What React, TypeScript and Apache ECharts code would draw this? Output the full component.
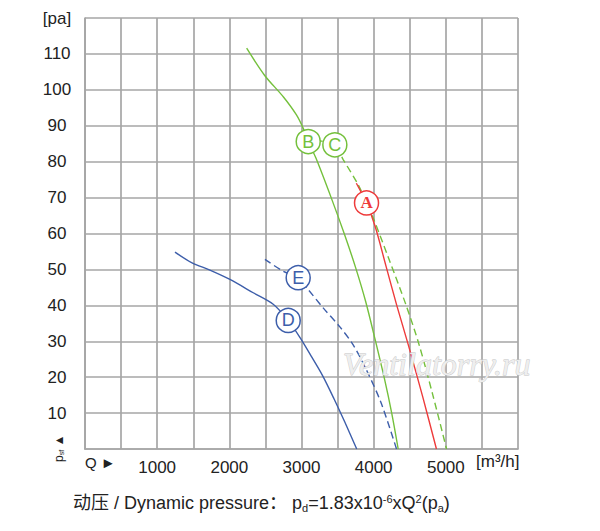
import * as echarts from "echarts";
import { useEffect, useRef } from "react";

// fan curves: [flow m³/h, static pressure pa]
const curveA = [[3760, 74], [3900, 68.5], [4020, 62], [4170, 51], [4320, 40], [4480, 29], [4680, 14.5], [4870, 0]];
const curveB = [[2240, 111.6], [2490, 104], [2750, 98], [2930, 93], [3030, 89], [3093, 85.6], [3200, 81], [3420, 69.5], [3600, 59.5], [3750, 50.5], [3890, 41], [4020, 30.5], [4150, 19.5], [4250, 10], [4340, 0]];
const curveC = [[3200, 86], [3462, 84.5], [3580, 80.5], [3785, 73.6], [3900, 68.5], [4000, 64], [4200, 53.5], [4450, 40], [4630, 29], [4820, 15], [5010, 0]];
const curveD = [[1247, 54.8], [1477, 51.9], [1731, 49.8], [2008, 47.2], [2331, 43.5], [2608, 40.3], [2816, 35.8], [2980, 31], [3130, 26], [3290, 20.5], [3450, 14], [3600, 7.5], [3765, 0]];
const curveE = [[2493, 52.8], [2747, 49.5], [2954, 47.7], [3093, 44.4], [3300, 39.3], [3532, 34], [3716, 29], [3900, 22], [4100, 13], [4317, 0]];

const curveNames = ["A", "B", "C", "D", "E"];
const labelPoints = [[3901, 68.5], [3093, 85.6], [3462, 84.7], [2816, 35.8], [2954, 47.7]];

const flowTicks = [1000, 2000, 3000, 4000, 5000];

const GREEN = "#74c03c";
const RED = "#ee3b3b";
const BLUE = "#3d5eaa";
const GRID = "#a6a6a6";
const FONT = "'Liberation Sans', Arial, 'Noto Sans CJK SC', sans-serif";

const curveColors: Record<string, string> = { A: RED, B: GREEN, C: GREEN, D: BLUE, E: BLUE };

function lineSeries(data: number[][], color: string, dashed: boolean) {
  return {
    type: "line",
    data,
    smooth: 0.3,
    showSymbol: false,
    silent: true,
    lineStyle: { color, width: 1.4, type: dashed ? [7, 4] : "solid" },
    z: 3
  };
}

export default function App() {
  const ref = useRef<HTMLDivElement | null>(null);

  useEffect(() => {
    document.body.style.margin = "0";
    if (!ref.current) return;
    const chart = echarts.init(ref.current, undefined, { renderer: "svg" });

    const markers = curveNames.map((name, i) => ({
      type: "scatter",
      data: [labelPoints[i]],
      symbol: "circle",
      symbolSize: 24,
      silent: true,
      itemStyle: { color: "#ffffff", borderColor: curveColors[name], borderWidth: 1.5, opacity: 1 },
      label: {
        show: true,
        position: "inside",
        formatter: name,
        color: curveColors[name],
        fontSize: name === "A" ? 17 : 18,
        fontWeight: name === "A" ? "bold" : "normal",
        fontFamily: name === "A" ? "'Liberation Serif', 'Times New Roman', serif" : FONT
      },
      z: 10
    }));

    chart.setOption({
      animation: false,
      backgroundColor: "#ffffff",
      grid: { left: 85, right: 82, top: 18, bottom: 82 },
      xAxis: {
        type: "value",
        min: 0,
        max: 6000,
        interval: 500,
        axisLine: { show: true, lineStyle: { color: GRID, width: 1.7 } },
        axisTick: { show: false },
        splitLine: { show: true, lineStyle: { color: GRID, width: 1.7 } },
        axisLabel: {
          margin: 10,
          fontSize: 17,
          color: "#222",
          fontFamily: FONT,
          formatter: (v: number) => (flowTicks.includes(v) ? String(v) : "")
        }
      },
      yAxis: {
        type: "value",
        min: 0,
        max: 120,
        interval: 10,
        axisLine: { show: true, lineStyle: { color: GRID, width: 1.7 } },
        axisTick: { show: false },
        splitLine: { show: true, lineStyle: { color: GRID, width: 1.7 } },
        axisLabel: {
          margin: 28,
          align: "center",
          fontSize: 17,
          color: "#222",
          fontFamily: FONT,
          formatter: (v: number) => (v === 0 ? "" : v === 120 ? "[pa]" : String(v))
        }
      },
      series: [
        lineSeries(curveB, GREEN, false),
        lineSeries(curveC, GREEN, true),
        lineSeries(curveA, RED, false),
        lineSeries(curveD, BLUE, false),
        lineSeries(curveE, BLUE, true),
        ...markers
      ],
      graphic: [
        {
          type: "text",
          left: 85,
          top: 455,
          style: { text: "Q ►", fontSize: 15, fill: "#222", fontFamily: FONT }
        },
        {
          type: "text",
          left: 476,
          top: 453,
          style: { text: "[m³/h]", fontSize: 17, fill: "#222", fontFamily: FONT }
        },
        {
          type: "text",
          x: 52,
          y: 462,
          rotation: Math.PI / 2,
          style: {
            text: "p{s|sf} ▲",
            fontSize: 12,
            fill: "#222",
            fontFamily: FONT,
            rich: { s: { fontSize: 7, fill: "#222", padding: [6, 0, 0, 0] } }
          }
        },
        {
          type: "text",
          x: 343,
          y: 348,
          z: 100,
          style: {
            text: "Ventilatorry.ru",
            font: "italic 32px 'Liberation Serif', serif",
            fill: "#eeeeee",
            stroke: "#c4c4c4",
            lineWidth: 0.8
          }
        },
        {
          type: "text",
          x: 73,
          y: 493,
          style: {
            text: "动压 / Dynamic pressure： p{sub|d}=1.83x10{sup|-6}xQ{sup|2}(p{sub|a})",
            fontSize: 18,
            fill: "#222",
            fontFamily: FONT,
            rich: {
              sub: { fontSize: 11, fill: "#222", fontFamily: FONT, padding: [10, 0, 0, 0] },
              sup: { fontSize: 11, fill: "#222", fontFamily: FONT, padding: [0, 0, 10, 0] }
            }
          }
        }
      ]
    });

    return () => chart.dispose();
  }, []);

  return <div ref={ref} style={{ width: 600, height: 531 }} />;
}
